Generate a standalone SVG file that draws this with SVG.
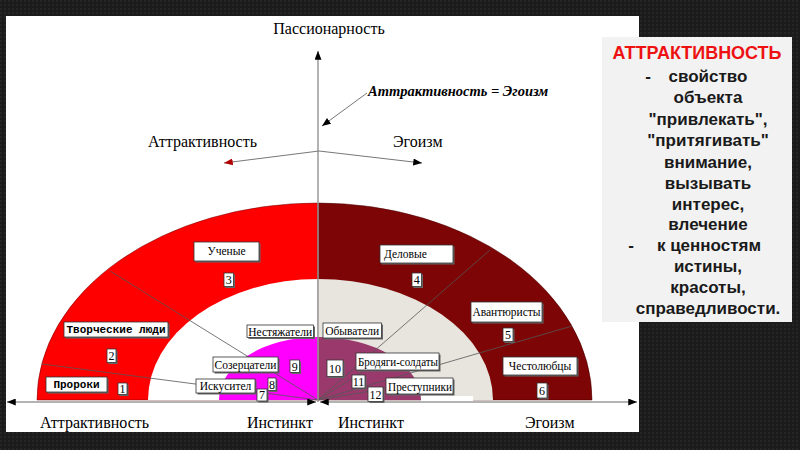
<svg xmlns="http://www.w3.org/2000/svg" width="800" height="450" viewBox="0 0 800 450">
<defs>
<pattern id="bgp" width="4" height="4" patternUnits="userSpaceOnUse">
<rect width="4" height="4" fill="#1b1b1b"/>
<rect x="0" y="0" width="2" height="2" fill="#262626"/>
</pattern>
<marker id="mb" viewBox="0 0 10 8" refX="10" refY="4" markerWidth="9" markerHeight="7" markerUnits="userSpaceOnUse" orient="auto-start-reverse">
<path d="M0,0 L10,4 L0,8 Z" fill="#000"/>
</marker>
<marker id="mr" viewBox="0 0 10 8" refX="10" refY="4" markerWidth="9" markerHeight="7" markerUnits="userSpaceOnUse" orient="auto">
<path d="M0,0 L10,4 L0,8 Z" fill="#b00000"/>
</marker>
<style>
.ax{stroke:#9a9a9a;stroke-width:1.5;fill:none}
.ln{stroke:#777;stroke-width:1;fill:none}
.dv{stroke:#555;stroke-width:0.8;fill:none}
.bx{fill:#fff;stroke:#333;stroke-width:0.8}
.sh{fill:#666}
.ser{font-family:"Liberation Serif","Times New Roman",serif;fill:#000}
.lab{font-size:11.5px}
.num{font-size:12px;text-anchor:middle}
.mono{font-family:"Liberation Mono","DejaVu Sans Mono","Courier New",monospace;font-weight:bold;font-size:11px;fill:#000;text-anchor:middle}
.ttl{font-size:16px}
.side{font-family:"Liberation Sans",Arial,sans-serif;font-weight:bold;font-size:17px;fill:#1a1a1a;text-anchor:middle}
</style>
</defs>
<rect width="800" height="450" fill="url(#bgp)"/>
<rect x="6" y="16" width="633" height="416" fill="#fff"/>

<g id="bands">
<path d="M37,400 A281,197 0 0 1 318,203 L318,400 Z" fill="#ff0000" stroke="#600" stroke-width="0.5"/>
<path d="M148,400 A170,121 0 0 1 318,279 L318,400 Z" fill="#fff"/>
<path d="M219,400 A99,63 0 0 1 318,337 L318,400 Z" fill="#ff00ff"/>
<path d="M318,203 A274,197 0 0 1 592,400 L318,400 Z" fill="#7d0505" stroke="#400" stroke-width="0.5"/>
<path d="M318,279 A175,121 0 0 1 493,400 L318,400 Z" fill="#e8e5de"/>
<path d="M318,337 A103,63 0 0 1 421,400 L318,400 Z" fill="#9a3a6c"/>
<rect x="421" y="396" width="52" height="5" fill="#fff"/>
</g>

<g id="connectors">
<line class="dv" x1="42" y1="364" x2="318" y2="400"/>
<line class="dv" x1="110" y1="271" x2="318" y2="400"/>
<line class="dv" x1="490" y1="250" x2="318" y2="400"/>
<line class="dv" x1="572" y1="326" x2="318" y2="400"/>
<line class="dv" x1="318" y1="400" x2="362" y2="372"/>
<line class="dv" x1="318" y1="400" x2="400" y2="386"/>
<line class="ax" x1="318" y1="402" x2="318" y2="51" marker-end="url(#mb)"/>
<line class="ax" x1="316" y1="402" x2="7" y2="402" marker-start="url(#mb)" marker-end="url(#mb)"/>
<line class="ax" x1="320" y1="402" x2="637" y2="402" marker-start="url(#mb)" marker-end="url(#mb)"/>
<line class="ln" x1="367" y1="93" x2="322" y2="126" marker-end="url(#mb)"/>
<line class="ln" x1="319" y1="151" x2="224" y2="163" marker-end="url(#mr)"/>
<line class="ln" x1="319" y1="151" x2="422" y2="163" marker-end="url(#mb)"/>
</g>

<g id="axis-labels" class="ser">
<text class="ttl" x="329" y="34" text-anchor="middle">Пассионарность</text>
<text x="368" y="96" font-size="14.5" font-style="italic" font-weight="bold">Аттрактивность = Эгоизм</text>
<text class="ttl" x="257" y="147" text-anchor="end">Аттрактивность</text>
<text class="ttl" x="393" y="147">Эгоизм</text>
<text class="ttl" x="40" y="428">Аттрактивность</text>
<text class="ttl" x="247" y="428">Инстинкт</text>
<text class="ttl" x="338" y="428">Инстинкт</text>
<text class="ttl" x="525" y="428">Эгоизм</text>
</g>

<g id="n-uchenye"><rect class="sh" x="195.5" y="243.5" width="65" height="19"/><rect class="bx" x="194" y="242" width="65" height="19"/><text class="ser lab" x="226.5" y="255" text-anchor="middle">Ученые</text></g>
<g id="n3"><rect class="sh" x="225.5" y="274.5" width="9.5" height="13.5"/><rect class="bx" x="224" y="273" width="9.5" height="13.5"/><text class="ser num" x="228.7" y="284">3</text></g>
<g id="n-tvorch"><rect class="sh" x="65.5" y="323.5" width="104" height="15"/><rect class="bx" x="64" y="322" width="104" height="15"/><text class="mono" x="116" y="333">Творческие люди</text></g>
<g id="n2"><rect class="sh" x="108.5" y="350.5" width="9" height="13.5"/><rect class="bx" x="107" y="349" width="9" height="13.5"/><text class="ser num" x="111.5" y="360">2</text></g>
<g id="n-proroki"><rect class="sh" x="47.5" y="378.5" width="61" height="15"/><rect class="bx" x="46" y="377" width="61" height="15"/><text class="mono" x="76.5" y="388">Пророки</text></g>
<g id="n1"><rect class="sh" x="119.5" y="384.5" width="9" height="11.5"/><rect class="bx" x="118" y="383" width="9" height="11.5"/><text class="ser num" x="122.5" y="393">1</text></g>
<g id="n-nestyazh"><rect class="sh" x="248.5" y="326.5" width="66.5" height="12.5"/><rect class="bx" x="247" y="325" width="66.5" height="12.5"/><text class="ser lab" x="280.2" y="335.5" text-anchor="middle">Нестяжатели</text></g>
<g id="n-sozerc"><rect class="sh" x="214.5" y="358.5" width="65" height="15"/><rect class="bx" x="213" y="357" width="65" height="15"/><text class="ser lab" x="245.5" y="368.5" text-anchor="middle">Созерцатели</text></g>
<g id="n9"><rect class="sh" x="291.5" y="361.5" width="9.5" height="12.5"/><rect class="bx" x="290" y="360" width="9.5" height="12.5"/><text class="ser num" x="294.7" y="370.5">9</text></g>
<g id="n-iskus"><rect class="sh" x="197.5" y="380.5" width="59" height="14"/><rect class="bx" x="196" y="379" width="59" height="14"/><text class="ser lab" x="225.5" y="390" text-anchor="middle">Искусител</text></g>
<g id="n8"><rect class="sh" x="269.5" y="379.5" width="8" height="12.5"/><rect class="bx" x="268" y="378" width="8" height="12.5"/><text class="ser num" x="272" y="388.5">8</text></g>
<g id="n7"><rect class="sh" x="258.5" y="390.5" width="10" height="12"/><rect class="bx" x="257" y="389" width="10" height="12"/><text class="ser num" x="262" y="399">7</text></g>
<g id="n-delovye"><rect class="sh" x="381.5" y="246.5" width="73" height="18"/><rect class="bx" x="380" y="245" width="73" height="18"/><text class="ser lab" x="384" y="258">Деловые</text></g>
<g id="n4"><rect class="sh" x="413.5" y="274.5" width="9.5" height="13.5"/><rect class="bx" x="412" y="273" width="9.5" height="13.5"/><text class="ser num" x="416.7" y="284">4</text></g>
<g id="n-avant"><rect class="sh" x="472.5" y="303.5" width="71" height="20"/><rect class="bx" x="471" y="302" width="71" height="20"/><text class="ser lab" x="506.5" y="315.5" text-anchor="middle">Авантюристы</text></g>
<g id="n5"><rect class="sh" x="504.5" y="329.5" width="10" height="13.5"/><rect class="bx" x="503" y="328" width="10" height="13.5"/><text class="ser num" x="508" y="339">5</text></g>
<g id="n-chest"><rect class="sh" x="504.5" y="358.5" width="74" height="18"/><rect class="bx" x="503" y="357" width="74" height="18"/><text class="ser lab" x="540" y="370" text-anchor="middle">Честолюбцы</text></g>
<g id="n6"><rect class="sh" x="538.5" y="384.5" width="10" height="15"/><rect class="bx" x="537" y="383" width="10" height="15"/><text class="ser num" x="542" y="395">6</text></g>
<g id="n-obyv"><rect class="sh" x="324.5" y="324.5" width="58.5" height="15"/><rect class="bx" x="323" y="323" width="58.5" height="15"/><text class="ser lab" x="352.2" y="334.5" text-anchor="middle">Обыватели</text></g>
<g id="n10"><rect class="sh" x="328.5" y="361.5" width="16" height="16.5"/><rect class="bx" x="327" y="360" width="16" height="16.5"/><text class="ser num" x="335" y="372.5">10</text></g>
<g id="n-brod"><rect class="sh" x="357.5" y="354.5" width="83" height="17"/><rect class="bx" x="356" y="353" width="83" height="17"/><text class="ser lab" x="358" y="365.5" textLength="80" lengthAdjust="spacingAndGlyphs">Бродяги-солдаты</text></g>
<g id="n11"><rect class="sh" x="353.5" y="376.5" width="13" height="13"/><rect class="bx" x="352" y="375" width="13" height="13"/><text class="ser num" x="358.5" y="385.5">11</text></g>
<g id="n12"><rect class="sh" x="369.5" y="388.5" width="15" height="14.5"/><rect class="bx" x="368" y="387" width="15" height="14.5"/><text class="ser num" x="375.5" y="398.5">12</text></g>
<g id="n-prest"><rect class="sh" x="387.5" y="379.5" width="67" height="16"/><rect class="bx" x="386" y="378" width="67" height="16"/><text class="ser lab" x="388" y="390.5" textLength="64" lengthAdjust="spacingAndGlyphs">Преступники</text></g>

<g id="definition">
<rect x="602" y="37" width="190" height="285" fill="#f2f2f2"/>
<text x="697" y="59" font-family="'Liberation Sans',Arial,sans-serif" font-weight="bold" font-size="17.5" fill="#ee1111" text-anchor="middle" textLength="169" lengthAdjust="spacingAndGlyphs">АТТРАКТИВНОСТЬ</text>
<text class="side" x="648" y="82" text-anchor="start">-</text>
<text class="side" x="708" y="82">свойство</text>
<text class="side" x="708" y="103">объекта</text>
<text class="side" x="708" y="125">"привлекать",</text>
<text class="side" x="708" y="146">"притягивать"</text>
<text class="side" x="708" y="168">внимание,</text>
<text class="side" x="708" y="189">вызывать</text>
<text class="side" x="708" y="210">интерес,</text>
<text class="side" x="708" y="230">влечение</text>
<text class="side" x="631" y="251" text-anchor="start">-</text>
<text class="side" x="709" y="251">к ценностям</text>
<text class="side" x="708" y="272">истины,</text>
<text class="side" x="708" y="293">красоты,</text>
<text class="side" x="708" y="314">справедливости.</text>
</g>
</svg>
